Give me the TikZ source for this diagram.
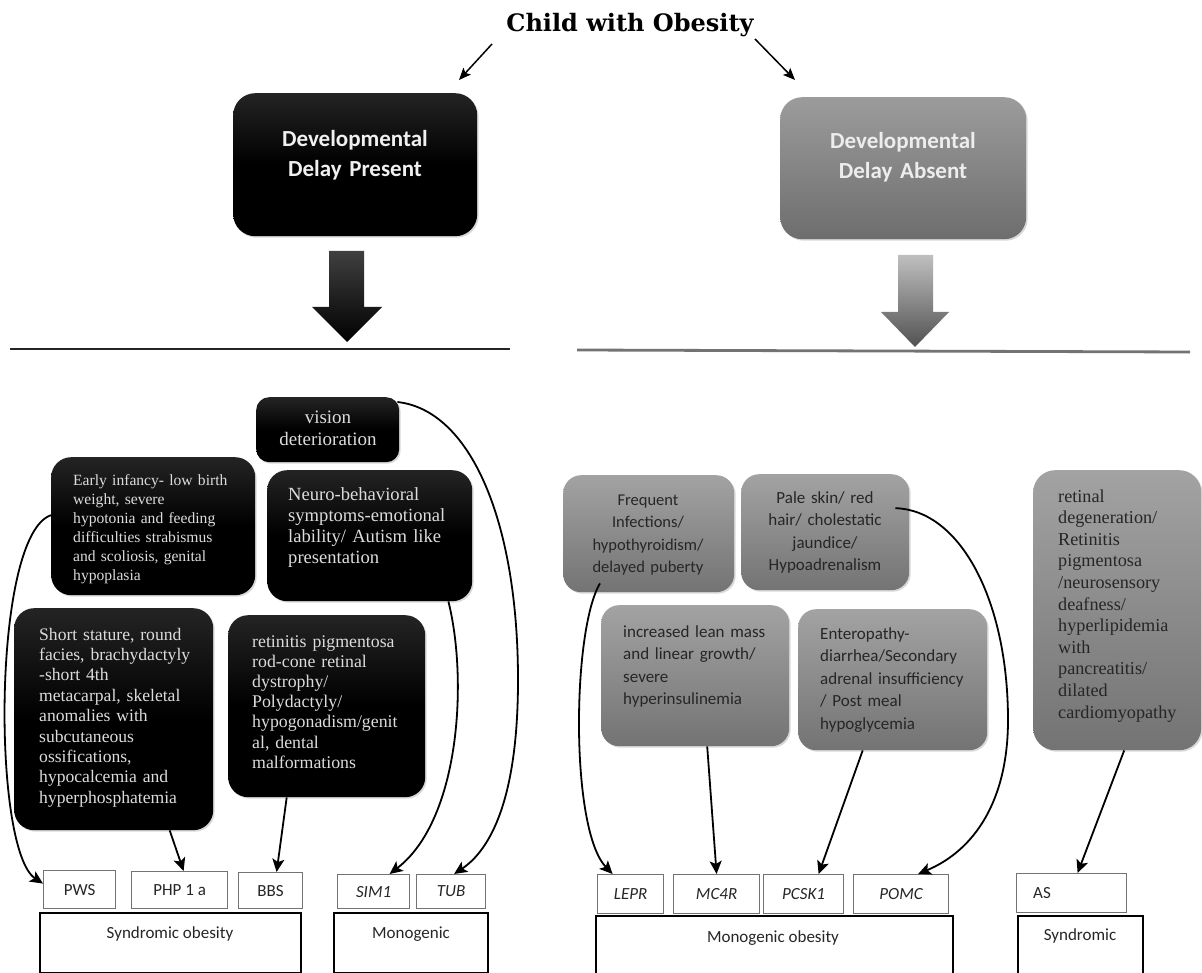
\documentclass[tikz,border=0pt]{standalone}
\usepackage{fontspec}
\setmainfont{Liberation Serif}
\newfontfamily\carl{Carlito}
\newfontfamily\dvserif{DejaVu Serif}
\usetikzlibrary{arrows.meta,shadows,calc}
\pgfdeclareverticalshading{blkshade}{100bp}{color(0bp)=(black); color(50bp)=(black); color(100bp)=(black!72)}
\pgfdeclareverticalshading{gryshade}{100bp}{color(0bp)=(black!64); color(100bp)=(black!27)}
\pgfdeclareverticalshading{ddashade}{100bp}{color(0bp)=(black!66); color(100bp)=(black!30)}
\definecolor{lighttxt}{HTML}{DCDCDC}
\definecolor{darktxt}{HTML}{262626}
\tikzset{
  boxshadow/.style={drop shadow={opacity=0.3, shadow xshift=1.5pt, shadow yshift=-1.5pt}},
  blackbox/.style={rounded corners=20pt, shade, shading=blkshade, inner sep=0pt, anchor=north west, boxshadow},
  graybox/.style={rounded corners=18pt, shade, shading=gryshade, inner sep=0pt, anchor=north west, boxshadow},
  ddabox/.style={rounded corners=22pt, shade, shading=ddashade, inner sep=0pt, anchor=north west, boxshadow},
  labelbox/.style={draw=black!55, line width=1.2pt, fill=white, inner sep=0pt, anchor=north west,
    font=\carl\fontsize{17}{20}\selectfont, text=black!85},
  basebox/.style={draw=black, line width=1.5pt, fill=white, inner sep=0pt, anchor=north west},
  lbl/.style={inner sep=0pt, anchor=base, font=\carl\fontsize{17}{20}\selectfont, text=black!85},
  sanstitle/.style={inner sep=0pt, anchor=base, text width=220pt, align=center, font=\carl\bfseries\fontsize{23}{30}\selectfont},
  bt/.style={inner sep=0pt, anchor=base west, text width=220pt, align=left, text=lighttxt},
  btc/.style={inner sep=0pt, anchor=base, text width=200pt, align=center, text=lighttxt},
  gt/.style={inner sep=0pt, anchor=base west, text width=220pt, align=left, text=darktxt, font=\carl\fontsize{17}{22.6}\selectfont},
  gtc/.style={inner sep=0pt, anchor=base, text width=200pt, align=center, text=darktxt, font=\carl\fontsize{17}{22.6}\selectfont},
  conn/.style={line width=1.8pt, -{Stealth[length=13pt, width=12pt, inset=3pt]}},
  toparr/.style={line width=1.5pt, -{Stealth[length=12pt, width=10pt, inset=2.5pt]}}
}
\begin{document}
\begin{tikzpicture}[x=1pt, y=-1pt]
\fill[white] (0,0) rectangle (1202,973);
\useasboundingbox (0,0) rectangle (1202,973);

% title and top arrows
\node[inner sep=0pt, anchor=base, font=\dvserif\bfseries\fontsize{24}{28}\selectfont] (title) at (630,32) {Child with Obesity};
\coordinate (tl1) at (492,44);
\coordinate (tl2) at (459,80);
\coordinate (tr1) at (755,39);
\coordinate (tr2) at (795,80);
\draw[toparr] (tl1) -- (tl2);
\draw[toparr] (tr1) -- (tr2);

% top boxes
\node[blackbox, rounded corners=22pt, minimum width=244pt, minimum height=143pt] (ddp) at (233,93) {};
\node[sanstitle, text=white!94!black] (ddpt) at (355,147) {Developmental\\Delay Present};
\node[ddabox, minimum width=246pt, minimum height=142pt] (dda) at (780,97) {};
\node[sanstitle, text=black!7] (ddat) at (903,149) {Developmental\\Delay Absent};

% big arrows
\shade[top color=black!75, bottom color=black] (329,251) -- (364,251) -- (364,307) -- (382,307) -- (347,342) -- (312,307) -- (329,307) -- cycle;
\shade[top color=black!25, bottom color=black!68] (898,255) -- (933,255) -- (933,312) -- (949,312) -- (915,347) -- (881,312) -- (898,312) -- cycle;

% separator lines
\draw[line width=2pt, black!85] (10,349) -- (510,349);
\draw[line width=2.8pt, black!55] (577,350) -- (1190,352);

% left black boxes
\node[blackbox, rounded corners=13pt, minimum width=143pt, minimum height=65pt] (vision) at (256,397) {};
\node[btc, font=\fontsize{19}{22}\selectfont] (visiont) at (328,423) {vision\\deterioration};
\node[blackbox, minimum width=204pt, minimum height=138pt] (early) at (51,457) {};
\node[bt, font=\fontsize{15.6}{19}\selectfont] (earlyt) at (73,485) {Early infancy- low birth\\weight, severe\\hypotonia and feeding\\difficulties strabismus\\and scoliosis, genital\\hypoplasia};
\node[blackbox, minimum width=205pt, minimum height=131pt] (neuro) at (267,470) {};
\node[bt, font=\fontsize{18.6}{21}\selectfont] (neurot) at (288,500) {Neuro-behavioral\\symptoms-emotional\\lability/ Autism like\\presentation};
\node[blackbox, minimum width=199pt, minimum height=222pt] (short) at (14,608) {};
\node[bt, font=\fontsize{17.6}{20.4}\selectfont] (shortt) at (39,640) {Short stature, round\\facies, brachydactyly\\-short 4th\\metacarpal, skeletal\\anomalies with\\subcutaneous\\ossifications,\\hypocalcemia and\\hyperphosphatemia};
\node[blackbox, minimum width=197pt, minimum height=182pt] (retin) at (228,615) {};
\node[bt, font=\fontsize{17.8}{20.2}\selectfont] (retint) at (252,647) {retinitis pigmentosa\\rod-cone retinal\\dystrophy/\\Polydactyly/\\hypogonadism/genit\\al, dental\\malformations};

% right gray boxes
\node[graybox, minimum width=171pt, minimum height=117pt] (freq) at (563,475) {};
\node[gtc, font=\carl\fontsize{16.5}{22.5}\selectfont] (freqt) at (648,505) {Frequent\\Infections/\\hypothyroidism/\\delayed puberty};
\node[graybox, minimum width=168pt, minimum height=116pt] (pale) at (741,474) {};
\node[gtc] (palet) at (825,503) {Pale skin/ red\\hair/ cholestatic\\jaundice/\\Hypoadrenalism};
\node[graybox, minimum width=188pt, minimum height=141pt] (incr) at (601,605) {};
\node[gt] (incrt) at (623,637) {increased lean mass\\and linear growth/\\severe\\hyperinsulinemia};
\node[graybox, minimum width=189pt, minimum height=141pt] (entero) at (798,609) {};
\node[gt] (enterot) at (820,639) {Enteropathy-\\diarrhea/Secondary\\adrenal insufficiency\\/ Post meal\\hypoglycemia};
\node[graybox, rounded corners=22pt, minimum width=168pt, minimum height=280pt] (retinal) at (1033,470) {};
\node[inner sep=0pt, anchor=base west, text width=160pt, align=left, text=darktxt, font=\fontsize{18.2}{21.6}\selectfont] (retinalt) at (1058,502) {retinal\\degeneration/\\Retinitis\\pigmentosa\\/neurosensory\\deafness/\\hyperlipidemia\\with\\pancreatitis/\\dilated\\cardiomyopathy};

% bottom left label boxes
\node[labelbox, minimum width=72pt, minimum height=38pt] (pws) at (43,870) {PWS};
\node[labelbox, minimum width=96pt, minimum height=37pt] (php) at (131,871) {PHP 1 a};
\node[labelbox, minimum width=64pt, minimum height=36pt] (bbs) at (238,872) {BBS};
\node[basebox, minimum width=261pt, minimum height=60pt] (synd) at (39,912) {};
\node[lbl] (syndt) at (170,938) {Syndromic obesity};
\node[labelbox, minimum width=72pt, minimum height=34pt] (sim1) at (337,874) {\itshape SIM1};
\node[labelbox, minimum width=69pt, minimum height=34pt] (tub) at (416,874) {\itshape TUB};
\node[basebox, minimum width=154pt, minimum height=60pt] (mono) at (333,912) {};
\node[lbl] (monot) at (411,938) {Monogenic};

% bottom right label boxes
\node[labelbox, minimum width=66pt, minimum height=39pt] (lepr) at (597,874) {\itshape LEPR};
\node[labelbox, minimum width=86pt, minimum height=39pt] (mc4r) at (673,874) {\itshape MC4R};
\node[labelbox, minimum width=80pt, minimum height=39pt] (pcsk1) at (763,874) {\itshape PCSK1};
\node[labelbox, minimum width=95pt, minimum height=39pt] (pomc) at (853,874) {\itshape POMC};
\node[basebox, minimum width=357pt, minimum height=70pt] (monoob) at (595,915) {};
\node[lbl] (monoobt) at (773,942) {Monogenic obesity};
\node[labelbox, minimum width=110pt, minimum height=39pt] (as) at (1016,873) {};
\node[lbl, anchor=base west] (ast) at (1033,898) {AS};
\node[basebox, minimum width=125pt, minimum height=70pt] (syndr) at (1017,915) {};
\node[lbl] (syndrt) at (1080,940) {Syndromic};

% connectors left
\draw[conn] ([yshift=11pt]early.west) .. controls (-8,535) and (-8,850) .. ([yshift=6pt]pws.west);
\draw[conn] ([xshift=56pt]short.south) -- ([xshift=4pt]php.north);
\draw[conn] ([xshift=-40pt]retin.south) -- ([xshift=6pt]bbs.north);
\draw[conn] ([xshift=-24pt]neuro.south east) .. controls (468,680) and (460,820) .. ([xshift=16pt]sim1.north);
\draw[conn] ([shift={(-2pt,-5pt)}]vision.north east) .. controls (470,410) and (518,520) .. (518,680) .. controls (518,800) and (490,850) .. ([xshift=3pt]tub.north);

% connectors right
\draw[conn] ([shift={(37pt,9pt)}]freq.south west) .. controls (572,630) and (570,830) .. ([xshift=-18pt]lepr.north);
\draw[conn] ([xshift=12pt]incr.south) -- (mc4r.north);
\draw[conn] ([xshift=-30pt]entero.south) -- ([xshift=15pt]pcsk1.north);
\draw[conn] ([shift={(-14pt,24pt)}]pale.east) .. controls (960,510) and (1008,600) .. (1008,720) .. controls (1008,800) and (975,850) .. ([xshift=17pt]pomc.north);
\draw[conn] ([xshift=7pt]retinal.south) -- ([xshift=6pt]as.north);
\end{tikzpicture}
\end{document}
